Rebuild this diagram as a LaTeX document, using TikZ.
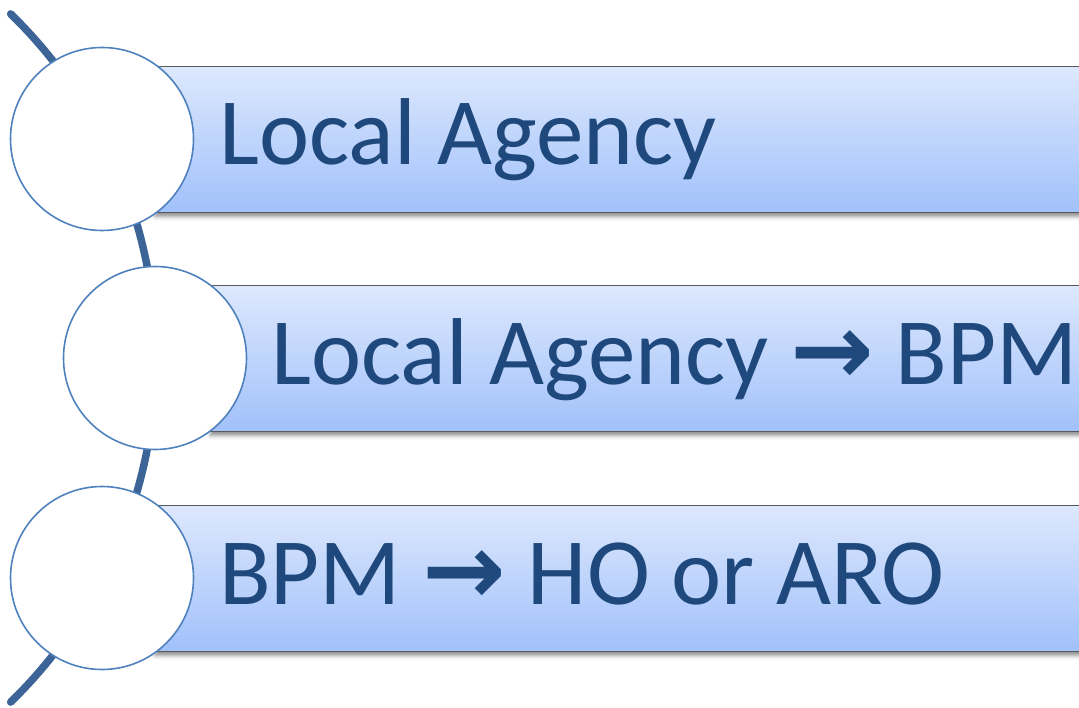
\documentclass[tikz,border=0pt]{standalone}
\usepackage{fontspec}
\setmainfont{Carlito}
\newfontfamily\arrowfont{DejaVu Sans}
\usetikzlibrary{shadows.blur}
\definecolor{spineblue}{HTML}{3C6496}
\definecolor{ringblue}{HTML}{4F81BD}
\definecolor{labelblue}{HTML}{1F497D}
\definecolor{bartop}{HTML}{DDE8FD}
\definecolor{barbottom}{HTML}{A1C1FB}
\newcommand{\thenarrow}{{\arrowfont\bfseries\fontsize{100}{100}\selectfont →}}
\begin{document}
\begin{tikzpicture}[
		x=1pt,y=-1pt,
		spine/.style = {draw=spineblue, line width=7.5pt, line cap=round},
		bar/.style = {rectangle, draw=black!65, line width=1pt, anchor=west,
			minimum width=960pt, minimum height=146pt, inner sep=0pt,
			top color=bartop, bottom color=barbottom,
			blur shadow={shadow xshift=0pt, shadow yshift=-4pt, shadow blur radius=4pt, shadow opacity=45}},
		ring/.style = {circle, draw=ringblue, line width=1.6pt, fill=white,
			minimum size=183pt, inner sep=0pt},
		label/.style = {anchor=base west, inner sep=0pt, text=labelblue,
			font=\fontsize{95}{100}\selectfont}
	]
	\clip (0,0) rectangle (1079,708);
	\coordinate (hub) at (-324,358);
	\coordinate (spinetop) at ([shift={(-45.8:480)}]hub);

	\draw [spine] (spinetop) arc[start angle=-45.8, end angle=45.8, radius=480];

	\node (bar1) [bar] at (155,139.5) {};
	\node (bar2) [bar] at (210,358.5) {};
	\node (bar3) [bar] at (155,578.5) {};

	\node (ring1) [ring] at (102,139) {};
	\node (ring2) [ring] at (155,358) {};
	\node (ring3) [ring] at (102,578) {};

	\node (text1) [label] at (219,165) {Local Agency};
	\node (text2) [label] at (271,385) {Local Agency \thenarrow{} BPM};
	\node (text3) [label] at (219,604) {BPM \thenarrow{} HO or ARO};
\end{tikzpicture}
\end{document}
